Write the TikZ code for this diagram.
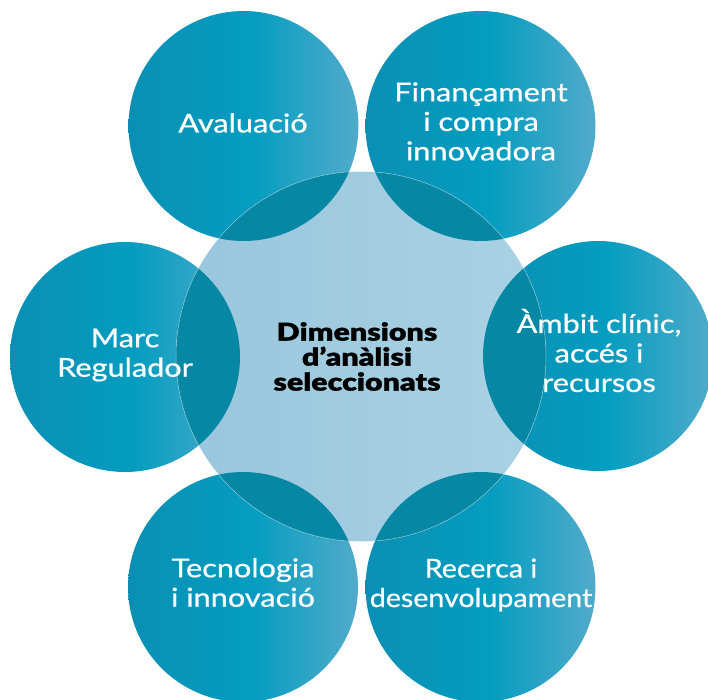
\documentclass[tikz,border=0pt]{standalone}
\usepackage{fontspec}
\setmainfont{Lato}
\newfontfamily\lblfont{Lato}[FakeStretch=1.18, FakeBold=0.7]
\newfontfamily\lblnarrowfont{Lato}[FakeStretch=1.10, FakeBold=0.7]
\newfontfamily\heavyfont{Lato Black}[FakeStretch=1.24, FakeBold=1.1]
\definecolor{tealL}{HTML}{0A8FB4}
\definecolor{tealM}{HTML}{049DC0}
\definecolor{tealR}{HTML}{52ABCA}
\definecolor{coreL}{HTML}{98C6DC}
\definecolor{coreR}{HTML}{AAD2E4}
\definecolor{ovl}{HTML}{0688A5}
\pgfdeclarehorizontalshading{tealsh}{100bp}{color(0bp)=(tealL); color(25bp)=(tealL); color(52bp)=(tealM); color(75bp)=(tealR); color(100bp)=(tealR)}
\pgfdeclarehorizontalshading{coresh}{100bp}{color(0bp)=(coreL); color(25bp)=(coreL); color(75bp)=(coreR); color(100bp)=(coreR)}
\tikzset{
  outerc/.style={circle, minimum size=230pt, inner sep=0pt, shade, shading=tealsh},
  corec/.style={circle, minimum size=370pt, inner sep=0pt, shade, shading=coresh},
  lbl/.style={text=white, align=center, inner sep=0pt, font=\lblfont\fontsize{26}{29.5}\selectfont},
  corelbl/.style={text=black, align=center, inner sep=0pt, font=\heavyfont\fontsize{24.5}{25}\selectfont}
}
\begin{document}
\begin{tikzpicture}[x=1pt,y=-1pt]
\useasboundingbox (0,0) rectangle (708,699);
\node[outerc] (aval) at (243.5,126) {};
\node[outerc] (fin) at (480.5,126) {};
\node[outerc] (amb) at (598,356) {};
\node[outerc] (marc) at (125,357) {};
\node[outerc] (tec) at (243,587) {};
\node[outerc] (rec) at (480.5,587) {};
\node[corec] (core) at (361,356.5) {};
\begin{scope}
  \clip (core.center) circle[radius=185];
  \foreach \n in {aval,fin,amb,marc,tec,rec}
    \fill[ovl] (\n.center) circle[radius=115];
\end{scope}
\draw[white, opacity=0.45, line width=0.5pt] (core.center) circle[radius=185];
\node[lbl] (t-aval) at (243,123) {Avaluació};
\node[lbl] (t-fin) at (481,121.5) {Finançament\\i compra\\innovadora};
\node[lbl] (t-amb) at (599,350.5) {Àmbit clínic,\\accés i\\recursos};
\node[lbl] (t-marc) at (125,355) {Marc\\Regulador};
\node[lbl] (t-tec) at (243,582.5) {Tecnologia\\i innovació};
\node[lbl, font=\lblnarrowfont\fontsize{26}{29.5}\selectfont] (t-rec) at (481,585) {Recerca i\\desenvolupament};
\node[corelbl] (t-core) at (357,356.5) {Dimensions\\d’anàlisi\\seleccionats};
\end{tikzpicture}
\end{document}
